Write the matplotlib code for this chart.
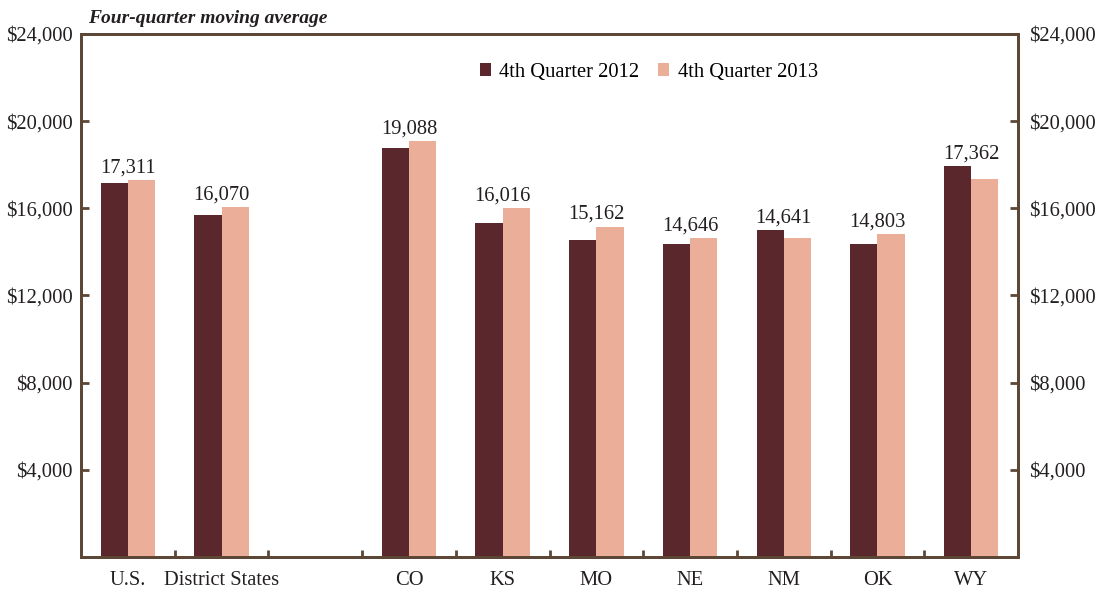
import matplotlib.pyplot as plt
import numpy as np

plt.rcParams['font.family'] = ['Liberation Serif', 'DejaVu Serif']

# slot 2 is an empty spacer between the aggregates and the states
labels = ['U.S.', 'District States', '', 'CO', 'KS', 'MO', 'NE', 'NM', 'OK', 'WY']
slots = [0, 1, 3, 4, 5, 6, 7, 8, 9]
q4_2012 = [17160, 15700, 18770, 15330, 14550, 14360, 15000, 14360, 17940]
q4_2013 = [17311, 16070, 19088, 16016, 15162, 14646, 14641, 14803, 17362]

c12 = '#5a272c'
c13 = '#ebae98'
frame = '#5c4636'
fs = 14.8

fig = plt.figure(figsize=(10.99, 5.92), dpi=100)
ax = fig.add_axes([0.0737, 0.0591, 0.8526, 0.8835])

x = np.array(slots)
w = 0.29
ax.bar(x - w / 2, q4_2012, w, color=c12, label='4th Quarter 2012')
ax.bar(x + w / 2, q4_2013, w, color=c13, label='4th Quarter 2013')

for xi, a, b in zip(x, q4_2012, q4_2013):
    ax.text(xi, max(a, b) + 120, '{:,}'.format(b), ha='center', va='bottom',
            fontsize=fs, color='#231f20')

ax.set_xlim(-0.5, len(labels) - 0.5)
ax.set_ylim(0, 24000)
yt = [4000, 8000, 12000, 16000, 20000, 24000]
ax.set_yticks(yt)
ax.set_yticklabels(['${:,}'.format(v) for v in yt])
ax.tick_params(axis='y', direction='in', length=6, width=2, color=frame,
               labelsize=fs, labelcolor='#231f20', pad=6)

ax.set_xticks(range(len(labels)))
ax.set_xticklabels(labels)
ax.set_xticks(np.arange(0.5, len(labels) - 0.5, 1), minor=True)
ax.tick_params(axis='x', which='major', length=0, labelsize=fs,
               labelcolor='#231f20', pad=10)
ax.tick_params(axis='x', which='minor', direction='in', length=5, width=2,
               color=frame)

ax2 = ax.twinx()
ax2.set_ylim(0, 24000)
ax2.set_yticks(yt)
ax2.set_yticklabels(['${:,}'.format(v) for v in yt])
ax2.tick_params(axis='y', direction='in', length=6, width=2, color=frame,
                labelsize=fs, labelcolor='#231f20', pad=8)

for a in (ax, ax2):
    for s in a.spines.values():
        s.set_color(frame)
        s.set_linewidth(2)

ax.legend(loc='upper center', bbox_to_anchor=(0.606, 0.98), ncol=2, frameon=False,
          fontsize=fs, handlelength=0.55, handleheight=0.55, handletextpad=0.4,
          columnspacing=0.9)

fig.text(0.08, 0.968, 'Four-quarter moving average', fontsize=14, style='italic',
         weight='bold', color='#231f20', va='center')

fig.savefig('out.png', dpi=100)
